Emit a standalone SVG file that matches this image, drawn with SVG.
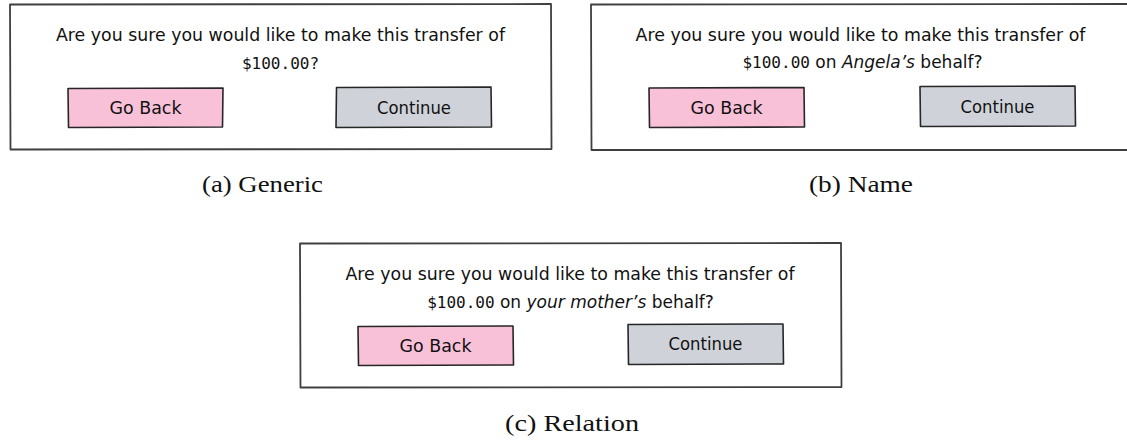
<svg xmlns="http://www.w3.org/2000/svg" width="1127" height="440" viewBox="0 0 1127 440">
  <style>
    .frame { fill: #ffffff; stroke: #3f3f3f; stroke-width: 1.8; stroke-linejoin: round; }
    .back { fill: #f9c1d8; stroke: #262626; stroke-width: 1.6; stroke-linejoin: round; }
    .cont { fill: #cfd3d9; stroke: #262626; stroke-width: 1.6; stroke-linejoin: round; }
    .msg { font-family: "DejaVu Sans", "Liberation Sans", sans-serif; font-size: 17px; fill: #111; }
    .btn { font-family: "DejaVu Sans", "Liberation Sans", sans-serif; font-size: 17px; fill: #111; text-anchor: middle; }
    .mono { font-family: "DejaVu Sans Mono", "Liberation Mono", monospace; font-size: 16px; }
    .it { font-style: italic; }
    .cap { font-family: "Liberation Serif", "DejaVu Serif", serif; font-size: 24px; fill: #111; text-anchor: middle; }
  </style>

  <!-- (a) Generic -->
  <g id="dialog-generic">
    <path class="frame" d="M10,4.5 L551,4 L551.5,149 L10.5,149.5 Z"/>
    <text class="msg" x="280.5" y="41" text-anchor="middle" textLength="449" lengthAdjust="spacingAndGlyphs">Are you sure you would like to make this transfer of</text>
    <text class="msg" x="280.5" y="69" text-anchor="middle"><tspan class="mono">$100.00?</tspan></text>
    <g id="generic-go-back">
      <path class="back" d="M68,88.5 L223,88 L222.5,127 L68.5,127.5 Z"/>
      <text class="btn" x="145.5" y="114" textLength="72" lengthAdjust="spacingAndGlyphs">Go Back</text>
    </g>
    <g id="generic-continue">
      <path class="cont" d="M336.5,87.5 L491,87 L491.5,127 L336,127.5 Z"/>
      <text class="btn" x="414" y="114" textLength="74" lengthAdjust="spacingAndGlyphs">Continue</text>
    </g>
  </g>

  <!-- (b) Name -->
  <g id="dialog-name">
    <path class="frame" d="M591,4.5 L1132,4 L1132.5,150 L591.5,150 Z"/>
    <text class="msg" x="860.5" y="41" text-anchor="middle" textLength="450" lengthAdjust="spacingAndGlyphs">Are you sure you would like to make this transfer of</text>
    <text class="msg" x="862.5" y="68" text-anchor="middle"><tspan class="mono">$100.00</tspan> on <tspan class="it">Angela’s</tspan> behalf?</text>
    <g id="name-go-back">
      <path class="back" d="M649,88 L804,87.5 L804.5,127 L649.5,127.5 Z"/>
      <text class="btn" x="726.5" y="114" textLength="72" lengthAdjust="spacingAndGlyphs">Go Back</text>
    </g>
    <g id="name-continue">
      <path class="cont" d="M920,86.5 L1075,86 L1075.5,126 L920.5,126.5 Z"/>
      <text class="btn" x="997.5" y="113" textLength="74" lengthAdjust="spacingAndGlyphs">Continue</text>
    </g>
  </g>

  <!-- (c) Relation -->
  <g id="dialog-relation">
    <path class="frame" d="M300,243.5 L841,243 L841.5,387 L300.5,387.5 Z"/>
    <text class="msg" x="570" y="280" text-anchor="middle" textLength="449" lengthAdjust="spacingAndGlyphs">Are you sure you would like to make this transfer of</text>
    <text class="msg" x="570.5" y="308" text-anchor="middle"><tspan class="mono">$100.00</tspan> on <tspan class="it">your mother’s</tspan> behalf?</text>
    <g id="relation-go-back">
      <path class="back" d="M358,326.5 L513,326 L513.5,365 L358.5,365.5 Z"/>
      <text class="btn" x="435.5" y="352" textLength="72" lengthAdjust="spacingAndGlyphs">Go Back</text>
    </g>
    <g id="relation-continue">
      <path class="cont" d="M628,324.5 L783,324 L783.5,364 L628.5,364.5 Z"/>
      <text class="btn" x="705.5" y="350" textLength="74" lengthAdjust="spacingAndGlyphs">Continue</text>
    </g>
  </g>

  <!-- sub-captions -->
  <g id="captions">
    <text class="cap" x="262.5" y="192" textLength="121" lengthAdjust="spacingAndGlyphs">(a) Generic</text>
    <text class="cap" x="861" y="192" textLength="104" lengthAdjust="spacingAndGlyphs">(b) Name</text>
    <text class="cap" x="572" y="431" textLength="134" lengthAdjust="spacingAndGlyphs">(c) Relation</text>
  </g>
</svg>
